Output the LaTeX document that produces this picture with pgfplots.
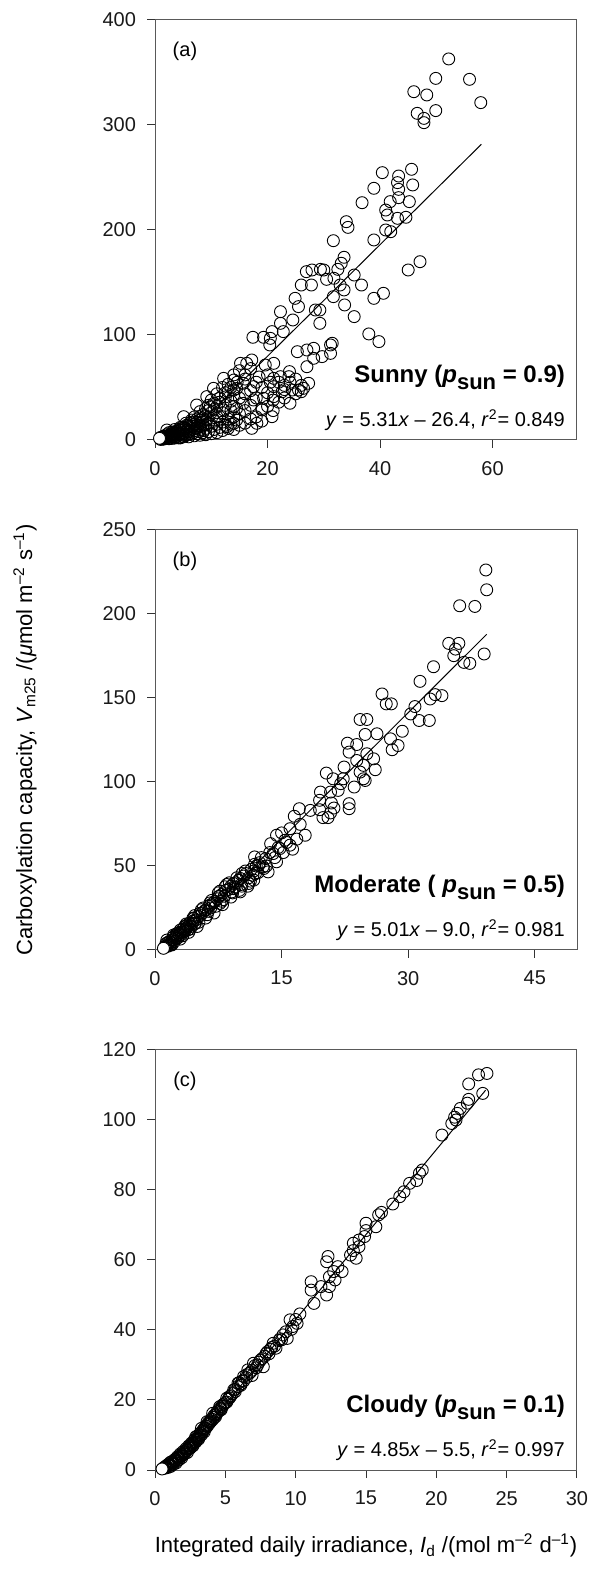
\documentclass[border=0pt]{standalone}
\usepackage{pgfplots}
\pgfplotsset{compat=1.18}
\usepackage{fontspec}
\setmainfont{Liberation Sans}

\pgfplotsset{
  panel/.style={
    scale only axis, width=211pt, height=210pt,
    xmin=0, ymin=0,
    tick align=outside, xtick pos=left, ytick pos=left,
    major tick length=4pt,
    axis line style={black!65, line width=0.5pt},
    tick style={black!80, line width=0.5pt},
    every tick label/.append style={font=\fontsize{10}{12}\selectfont, text=black!90},
    xticklabel style={yshift=-3pt},
    yticklabel style={xshift=-2pt},
    /pgf/number format/assume math mode=true,
    clip=false, scaled ticks=false,
  },
  pts/.style={only marks, mark=o, mark size=3pt, mark options={draw=black, line width=0.45pt}},
  pt0/.style={only marks, mark=*, mark size=3pt, mark options={fill=white, draw=black, line width=0.45pt}},
  fit/.style={black, line width=0.5pt, no marks},
}
\newcommand{\psun}{\textit{p}\raisebox{-0.55ex}{\fontsize{11}{12}\selectfont sun}}
\newcommand{\lab}[1]{\node[anchor=east, font=\bfseries\fontsize{12}{14}\selectfont] at (rel axis cs:0.988,0.148) {#1};}
\newcommand{\eqn}[1]{\node[anchor=east, font=\fontsize{10}{12}\selectfont] at (rel axis cs:0.988,0.048) {#1};}
\newcommand{\tag}[1]{\node[font=\fontsize{10}{12}\selectfont] at (rel axis cs:0.071,0.925) {#1};}

\begin{document}
\begin{tikzpicture}
\path[use as bounding box] (0,0) rectangle (295.5pt,784.5pt);

% ---------------- (a) ----------------
\begin{axis}[panel, at={(77.5pt,564.5pt)}, anchor=south west,
  xmax=75, ymax=400, xtick={0,20,40,60}, ytick={0,100,200,300,400}]
\addplot[pts] table {
x y
52.2 362.9
55.9 343.5
49.9 344.4
46.0 331.7
48.3 328.6
57.9 321.3
46.6 311.1
49.9 313.7
47.8 306.3
47.8 302.2
40.4 254.6
45.6 257.8
43.3 251.4
43.1 245.1
45.8 242.9
38.9 239.7
43.3 238.7
36.8 226.0
41.8 227.0
45.2 227.0
43.3 230.8
41.0 219.0
41.3 214.3
43.1 211.1
44.6 212.1
34.0 207.9
34.3 202.5
41.0 200.0
41.9 198.4
38.9 190.5
31.7 189.8
47.1 169.8
45.0 161.9
33.6 174.0
33.1 168.3
32.5 162.5
35.4 157.1
36.7 147.6
29.4 162.5
30.0 161.9
26.9 160.3
27.9 161.9
26.0 147.6
27.8 147.6
30.5 153.0
31.8 154.0
32.9 147.6
33.6 142.9
31.7 136.5
24.9 134.9
25.5 127.0
28.5 123.8
29.3 123.8
33.7 128.6
38.9 134.9
40.6 139.7
35.4 117.5
22.3 122.2
24.5 114.3
29.3 111.1
22.3 111.1
22.8 103.2
20.8 103.2
17.4 97.8
19.3 97.8
20.5 96.8
20.4 90.5
38.0 101.0
39.8 93.7
31.5 92.1
31.2 90.5
25.3 84.1
27.0 85.7
28.2 87.3
31.2 82.5
29.7 79.4
28.2 77.8
27.0 69.8
27.3 54.0
26.4 49.2
25.5 47.6
24.4 47.6
23.9 65.1
23.8 60.3
22.3 60.3
21.1 58.7
21.1 73.0
19.6 71.4
21.1 50.8
22.6 46.0
21.1 41.3
19.3 39.7
19.0 28.6
20.8 22.2
17.2 11.1
18.1 15.9
16.3 73.0
17.2 76.2
15.2 73.0
12.2 58.7
14.0 57.1
10.4 49.2
14.0 47.6
15.7 54.0
17.5 50.8
17.5 38.1
15.7 34.9
14.0 31.7
14.0 15.9
12.2 28.6
9.2 41.3
7.4 33.3
9.8 31.7
11.0 22.2
12.8 12.7
8.0 22.2
5.1 22.2
6.2 15.9
4.5 9.5
2.1 9.5
1.0 0.5
1.0 2.5
1.5 0.8
1.5 3.5
2.0 2.0
2.0 5.0
2.5 1.2
2.5 4.5
2.5 7.0
3.0 3.5
3.0 7.5
3.5 1.8
3.5 6.0
3.5 10.0
4.0 3.5
4.0 8.0
4.5 2.0
4.5 6.0
4.5 12.0
5.0 3.0
5.0 7.0
5.0 10.0
5.5 5.0
5.5 11.0
5.5 16.0
6.0 3.0
6.0 8.0
6.0 13.0
6.5 5.5
6.5 11.0
6.5 19.0
7.0 4.0
7.0 9.0
7.0 15.0
7.0 22.0
7.5 6.0
7.5 12.0
7.5 17.0
8.0 4.5
8.0 10.0
8.0 19.0
8.0 27.0
8.5 7.0
8.5 14.0
8.5 21.0
9.0 5.0
9.0 11.0
9.0 23.0
9.0 30.0
9.5 8.0
9.5 16.0
9.5 33.0
10.0 6.0
10.0 13.0
10.0 26.0
10.0 38.0
10.5 10.0
10.5 19.0
10.5 29.0
11.0 7.0
11.0 15.0
11.0 32.0
11.0 44.0
11.5 12.0
11.5 22.0
11.5 36.0
12.0 9.0
12.0 17.0
12.0 26.0
12.0 50.0
12.5 14.0
12.5 33.0
12.5 41.0
13.0 11.0
13.0 20.0
13.0 46.0
13.0 53.0
13.5 15.0
13.5 28.0
13.5 37.0
14.0 10.0
14.0 22.0
14.0 43.0
14.0 62.0
14.5 19.0
14.5 30.0
14.5 49.0
15.0 14.0
15.0 25.0
15.0 40.0
15.0 66.0
16.0 16.0
16.0 28.0
16.0 44.0
16.0 58.0
17.0 20.0
17.0 33.0
17.0 47.0
17.0 68.0
18.0 22.0
18.0 40.0
18.0 55.0
19.0 18.0
19.0 30.0
19.0 50.0
20.0 32.0
20.0 45.0
20.0 62.0
21.0 28.0
21.0 38.0
22.0 36.0
22.0 55.0
23.0 40.0
23.0 48.0
24.0 35.0
24.0 55.0
25.0 44.0
25.0 58.0
26.0 46.0
26.0 52.0
1.8 2.5
2.2 4.0
2.8 5.5
3.2 6.5
3.6 8.0
4.2 10.0
4.8 12.0
5.6 14.0
6.5 17.0
7.5 20.0
8.5 24.0
9.5 28.0
10.5 35.0
11.5 40.0
12.5 45.0
13.5 50.0
14.6 55.0
16.0 62.0
18.5 60.0
20.5 55.0
23.0 52.0
1.2 1.0
1.4 2.0
1.6 1.2
1.8 3.0
2.0 1.5
2.2 2.5
2.4 3.5
2.6 2.0
2.8 4.0
3.0 1.5
3.2 3.0
3.4 5.0
3.6 2.5
3.8 4.5
4.0 6.5
4.2 2.0
4.4 5.0
4.6 9.0
4.8 3.5
5.0 6.0
5.2 12.0
5.4 4.0
5.6 8.0
5.8 10.0
6.0 5.5
6.3 9.5
6.6 13.0
6.9 7.0
7.2 11.0
7.5 14.0
7.8 8.0
8.1 12.5
8.4 17.0
8.7 9.0
9.0 14.5
9.3 20.0
};
\addplot[pt0] coordinates {(0.8,1.6)};
\addplot[fit] coordinates {(5,0.15) (58,281.6)};
\tag{(a)}
\lab{Sunny (\psun\ = 0.9)}
\eqn{\textit{y} = 5.31\textit{x} – 26.4, \textit{r}\textsuperscript{2}= 0.849}
\end{axis}

% ---------------- (b) ----------------
\begin{axis}[panel, at={(77.5pt,309.5pt)}, anchor=south west,
  xmax=50, ymax=250, xtick={0,15,30,45}, ytick={0,50,100,150,200,250}]
\addplot[pts] table {
x y
39.2 226.2
39.3 214.4
36.1 204.9
37.9 204.5
34.8 182.5
36.0 182.5
35.6 179.1
35.4 175.2
39.0 176.2
37.3 170.6
36.6 171.2
33.0 168.6
31.4 159.9
34.0 151.4
33.2 152.0
32.6 149.4
30.8 144.9
30.3 140.5
31.3 136.6
32.5 136.6
26.9 152.4
27.4 146.5
28.0 146.5
24.3 137.2
25.1 137.2
24.9 128.3
26.3 128.7
29.3 130.2
27.9 125.7
28.1 119.2
28.8 121.7
22.8 123.1
23.9 122.3
23.0 117.8
25.1 116.8
25.9 113.8
23.9 112.8
24.7 109.9
22.4 108.9
26.1 107.3
24.3 105.9
24.7 101.9
24.9 100.9
23.6 97.0
22.3 101.9
20.3 105.3
21.1 101.9
22.0 99.0
20.8 94.0
21.7 95.0
19.6 94.0
19.5 89.1
23.0 87.1
23.0 84.1
20.9 87.5
21.2 84.5
20.8 81.6
19.9 78.8
20.5 78.8
18.4 83.1
19.5 83.5
17.1 84.1
16.5 79.6
17.2 74.8
17.8 68.3
16.0 72.2
15.0 69.7
14.4 68.3
15.4 65.3
16.0 62.4
14.8 60.4
13.7 63.3
14.0 57.4
13.1 54.4
14.4 52.5
11.8 55.4
12.3 50.5
12.9 48.5
11.9 45.5
10.3 45.5
11.7 41.6
11.1 39.6
10.1 42.6
9.3 39.6
8.3 37.6
9.1 34.6
10.1 34.6
7.5 31.7
7.7 27.7
6.5 26.7
5.3 21.8
4.6 18.8
3.8 14.8
3.0 11.9
2.2 8.9
1.4 5.9
1.3 2.5
1.6 3.5
1.9 4.5
2.1 6.0
2.4 7.0
2.6 8.5
2.9 9.0
3.1 10.5
3.4 11.5
3.6 12.0
3.9 14.0
4.1 14.5
4.4 16.0
4.6 17.5
4.9 18.0
5.1 20.0
5.4 20.5
5.6 22.0
5.9 23.5
6.1 24.0
6.4 26.0
6.6 25.0
6.9 28.0
7.1 29.0
7.4 30.5
7.6 32.0
7.9 33.0
8.1 30.0
8.4 35.5
8.7 36.0
9.0 38.0
9.3 36.5
9.6 40.0
9.9 41.5
10.2 39.0
10.5 44.0
10.8 45.5
11.1 43.0
11.4 48.0
11.7 47.0
12.0 50.0
12.4 52.0
12.8 49.5
2.0 3.0
3.0 6.5
4.0 10.5
5.0 14.0
6.0 19.0
7.0 22.0
8.0 27.0
9.0 31.5
10.0 35.5
11.0 38.0
2.5 9.5
3.5 14.0
4.5 19.0
5.5 24.0
6.5 28.0
7.5 34.0
8.5 39.0
1.2 2.0
1.5 4.5
1.7 2.8
2.3 5.0
2.7 10.0
3.3 8.5
3.7 15.5
4.2 12.5
4.7 20.5
5.2 16.5
5.7 25.0
6.2 21.0
6.7 29.5
7.2 26.0
7.7 35.0
8.2 32.0
8.8 40.0
9.2 34.0
9.7 43.0
10.3 38.0
10.7 47.0
11.3 41.0
11.8 51.0
12.2 46.0
12.6 55.0
13.2 50.0
13.6 58.0
14.2 55.0
14.6 61.0
15.2 58.0
15.6 64.0
16.3 60.0
16.8 66.0
13.4 46.5
11.6 44.5
9.5 37.5
7.9 29.0
6.3 23.0
4.8 16.0
3.3 10.5
1.1 1.5
1.3 3.8
1.5 2.2
1.7 5.0
1.9 3.2
2.1 7.5
2.3 6.2
2.5 8.0
2.7 7.2
2.9 10.5
3.1 9.0
3.3 12.5
3.5 11.0
3.7 13.0
3.9 12.0
4.1 16.0
4.3 14.0
4.5 17.0
4.7 15.5
};
\addplot[pt0] coordinates {(1.0,1.0)};
\addplot[fit] coordinates {(1.8,0.02) (39.3,187.9)};
\tag{(b)}
\lab{Moderate ( \psun\ = 0.5)}
\eqn{\textit{y} = 5.01\textit{x} – 9.0, \textit{r}\textsuperscript{2}= 0.981}
\end{axis}

% ---------------- (c) ----------------
\begin{axis}[panel, at={(77.5pt,49.5pt)}, anchor=south west,
  xmax=30, ymax=120, xtick={0,5,...,30}, ytick={0,20,...,120}]
\addplot[pts] table {
x y
23.6 113.3
23.0 112.9
23.3 107.6
22.3 110.3
22.3 105.9
22.2 104.8
21.7 103.3
21.5 101.9
21.3 100.8
21.1 99.0
21.4 100.0
20.4 95.7
19.0 85.7
18.8 84.8
18.6 82.7
18.1 81.9
17.7 79.5
17.4 78.1
16.9 76.0
16.1 73.6
15.9 72.9
15.0 70.5
15.7 69.5
15.0 68.4
14.9 66.7
14.5 65.7
14.1 64.8
14.5 63.8
14.1 62.7
14.3 60.5
13.9 61.4
12.3 61.0
12.2 59.5
13.0 58.1
13.3 56.7
12.7 56.7
12.4 55.2
12.8 54.3
11.1 53.8
11.1 51.4
11.8 52.4
12.4 52.4
12.2 50.0
11.3 47.6
10.3 44.6
9.6 42.9
10.1 41.9
9.1 38.6
9.4 37.6
8.4 36.2
8.6 34.8
7.9 33.3
7.5 31.4
7.0 30.5
6.6 28.6
7.7 29.5
6.3 26.7
5.9 24.8
5.6 22.9
5.1 20.5
4.6 18.1
4.1 16.2
3.7 13.8
3.3 11.9
10.0 43.0
9.8 41.0
8.9 37.5
8.2 34.5
7.3 30.0
6.8 28.0
6.9 27.0
6.0 25.0
6.2 25.5
5.4 21.2
5.2 20.2
5.0 19.2
4.8 18.2
4.4 16.1
4.2 15.0
4.0 14.0
3.8 13.0
3.6 12.0
3.4 11.0
3.2 10.0
3.0 9.0
2.8 8.1
2.6 7.2
2.4 6.3
2.2 5.5
2.0 4.7
1.8 4.0
1.6 3.3
1.4 2.6
1.2 1.9
1.0 1.3
0.8 0.8
2.9 9.5
2.5 7.0
2.1 5.2
1.7 3.8
1.3 2.3
3.5 11.5
3.9 13.5
4.3 15.8
4.7 17.5
5.3 21.0
5.7 23.0
6.1 24.2
6.5 27.2
7.1 29.8
7.6 31.8
8.0 33.8
8.3 35.0
8.8 37.0
0.7 0.5
0.9 1.5
1.1 1.0
1.1 2.2
1.3 1.6
1.5 3.0
1.5 2.0
1.7 2.9
1.9 4.4
1.9 3.5
2.1 4.6
2.3 6.0
2.3 5.0
2.5 6.5
2.7 7.8
2.7 6.9
2.9 8.4
3.1 9.6
3.1 8.8
3.3 10.4
3.5 11.8
3.5 10.9
3.7 12.4
3.9 13.8
4.1 14.4
4.3 15.2
4.5 16.8
4.7 17.2
4.9 18.9
5.1 19.4
5.3 20.6
5.5 21.8
5.7 22.4
5.9 23.8
6.1 24.6
6.3 25.4
6.5 26.4
6.7 27.6
6.9 28.5
7.2 29.2
7.4 30.8
7.8 32.5
8.1 33.2
8.5 35.4
9.0 37.2
9.3 39.5
9.7 40.2
0.6 0.6
0.7 0.9
0.8 1.2
0.9 0.7
1.0 1.8
1.1 1.4
1.2 2.4
1.3 2.0
1.4 3.0
1.5 2.5
1.6 3.8
1.7 3.4
1.8 4.6
1.9 4.0
2.0 5.3
2.1 4.9
2.2 6.1
2.3 5.6
2.4 6.9
2.5 6.2
2.6 7.7
2.7 7.3
2.8 8.6
2.9 8.0
3.0 9.6
3.1 9.2
3.2 10.5
3.3 10.0
3.4 11.4
3.6 12.6
3.8 13.6
4.0 14.6
4.2 15.6
4.4 16.6
4.6 17.6
4.8 18.6
};
\addplot[pt0] coordinates {(0.5,0.3)};
\addplot[fit] coordinates {(1.13,0) (23.5,108.5)};
\tag{(c)}
\lab{Cloudy (\psun\ = 0.1)}
\eqn{\textit{y} = 4.85\textit{x} – 5.5, \textit{r}\textsuperscript{2}= 0.997}
\node[font=\fontsize{11}{13}\selectfont] at (rel axis cs:0.5,-0.18)
  {Integrated daily irradiance, \textit{I}\textsubscript{d} /(mol m\textsuperscript{–2} d\textsuperscript{–1})};
\end{axis}

\node[rotate=90, font=\fontsize{11}{13}\selectfont] at (12.5pt,414.5pt)
  {Carboxylation capacity, \textit{V}\textsubscript{m25} /(\textit{μ}mol m\textsuperscript{–2} s\textsuperscript{–1})};
\end{tikzpicture}
\end{document}
